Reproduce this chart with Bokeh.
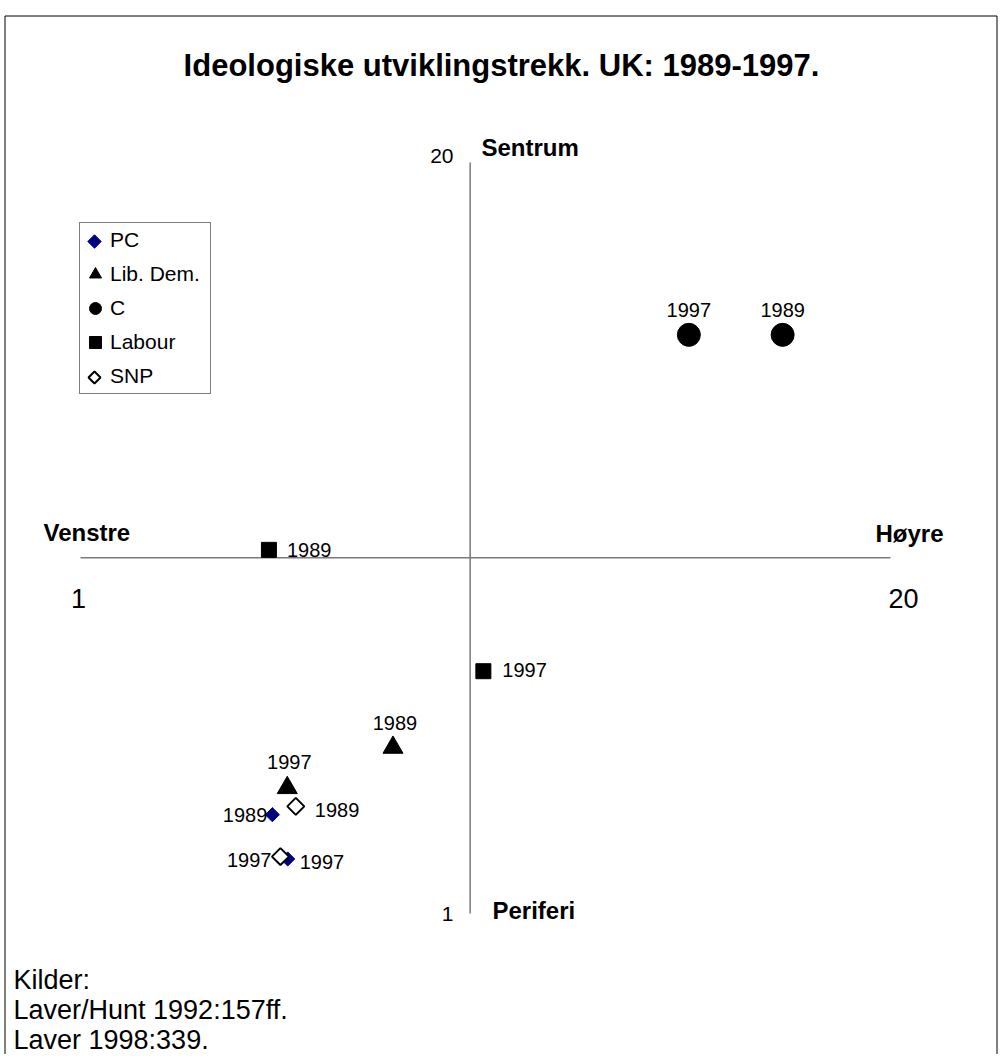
import math
from bokeh.plotting import figure
from bokeh.models import ColumnDataSource, Label, Legend, LegendItem, Range1d
from bokeh.embed import file_html
from bokeh.resources import INLINE
from bokeh.core.properties import value

# ---------------- data ----------------
title_text = "Ideologiske utviklingstrekk. UK: 1989-1997."
parties = ["PC", "Lib. Dem.", "C", "Labour", "SNP"]
years = ["1989", "1997"]

pc_x = [5.50, 5.86]
pc_y = [3.50, 2.38]
libdem_x = [8.33, 5.85]
libdem_y = [5.20, 4.18]
c_x = [17.47, 15.27]
c_y = [15.64, 15.64]
labour_x = [5.42, 10.45]
labour_y = [10.20, 7.13]
snp_x = [6.05, 5.69]
snp_y = [3.71, 2.44]

axis_min, axis_max = 1, 20
x_cross, y_cross = 10.14, 10
x_end_labels = ["1", "20"]
y_end_labels = ["1", "20"]
pole_left, pole_right, pole_top, pole_bottom = "Venstre", "Høyre", "Sentrum", "Periferi"
source_lines = ["Kilder:", "Laver/Hunt 1992:157ff.", "Laver 1998:339."]

# ---------------- geometry (page pixels -> data) ----------------
W, H = 1000, 1054
PX1, PX20 = 80, 890      # page x of value 1 and 20
PY20, PY1 = 162, 913     # page y of value 20 and 1
kx = (axis_max - axis_min) / (PX20 - PX1)
ky = (axis_max - axis_min) / (PY1 - PY20)


def X(px):
    return axis_min + (px - PX1) * kx


def Y(py):
    return axis_max - (py - PY20) * ky


FONT = "Liberation Sans"
NAVY = "#000080"

p = figure(width=W, height=H, x_range=Range1d(X(0), X(W)),
           y_range=Range1d(Y(H), Y(0)), min_border=0,
           toolbar_location=None, output_backend="svg",
           x_axis_type=None, y_axis_type=None)
p.grid.visible = False
p.outline_line_color = None
p.background_fill_color = "white"

# outer chart border (open at bottom, like the cropped original)
p.line(x=[X(4.5), X(4.5), X(996.5), X(996.5)],
       y=[Y(H), Y(15.5), Y(15.5), Y(H)],
       line_color="black", line_width=1)

# crossing axes
p.segment(x0=[axis_min, x_cross], y0=[y_cross, axis_min],
          x1=[axis_max, x_cross], y1=[y_cross, axis_max],
          line_color="#7a7a7a", line_width=1.5)

# ---------------- markers ----------------
rot = math.pi / 4
r_pc = p.scatter(pc_x, pc_y, marker="square", angle=rot, size=10,
                 fill_color=NAVY, line_color=NAVY)
r_ld = p.scatter(libdem_x, libdem_y, marker="triangle", size=20,
                 fill_color="black", line_color="black")
r_c = p.scatter(c_x, c_y, marker="circle", size=23,
                fill_color="black", line_color="black")
r_lab = p.scatter(labour_x, labour_y, marker="square", size=15,
                  fill_color="black", line_color="black")
r_snp = p.scatter(snp_x, snp_y, marker="square", angle=rot, size=12,
                  fill_color="white", line_color="black", line_width=2)

# ---------------- year labels ----------------
# label placement per series (align, dx px, dy px) for 1989 and 1997
placement = {
    "PC": [("right", -5, 0), ("left", 12, 3)],
    "Lib. Dem.": [("center", 2, -24), ("center", 2, -26)],
    "C": [("center", 0, -25), ("center", 0, -25)],
    "Labour": [("left", 18, 0), ("left", 19, -1)],
    "SNP": [("left", 19, 4), ("right", -9, 3)],
}
series = {"PC": (pc_x, pc_y), "Lib. Dem.": (libdem_x, libdem_y),
          "C": (c_x, c_y), "Labour": (labour_x, labour_y),
          "SNP": (snp_x, snp_y)}
groups = {}
for name in parties:
    xs, ys = series[name]
    for i, yr in enumerate(years):
        align, dx, dy = placement[name][i]
        g = groups.setdefault(align, dict(x=[], y=[], t=[], dx=[], dy=[]))
        g["x"].append(xs[i]); g["y"].append(ys[i]); g["t"].append(yr)
        g["dx"].append(dx); g["dy"].append(dy)
for align, g in groups.items():
    p.text(x="x", y="y", text="t", x_offset="dx", y_offset="dy",
           source=ColumnDataSource(g), text_align=align,
           text_baseline="middle", text_font=value(FONT),
           text_font_size="20px", text_color="black")

# ---------------- legend ----------------
# Bokeh legends draw markers unrotated, so the two diamond entries get an
# empty stand-in renderer and their rotated marker is drawn underneath the
# (transparent) legend box.
LEG_LEFT, LEG_TOP, LEG_GW, LEG_GH = 79, 224, 30, 34
stand_pc = p.scatter([], [], marker="square", fill_alpha=0, line_alpha=0)
stand_snp = p.scatter([], [], marker="square", fill_alpha=0, line_alpha=0)
legend_renderers = [stand_pc, r_ld, r_c, r_lab, stand_snp]
n_items = len(parties)
legend = Legend(items=[LegendItem(label=n, renderers=[r]) for n, r in
                       zip(parties, legend_renderers)],
                location=(LEG_LEFT, H - LEG_TOP - n_items * LEG_GH),
                margin=0, padding=0, spacing=0,
                glyph_width=LEG_GW, glyph_height=LEG_GH, label_standoff=0,
                label_width=100, label_height=20,
                label_text_font=FONT, label_text_font_size="21px",
                label_text_color="black",
                border_line_color="black", border_line_width=1,
                background_fill_alpha=0)
p.add_layout(legend)

gx = X(LEG_LEFT + LEG_GW / 2)
p.scatter([gx], [Y(LEG_TOP + LEG_GH / 2)], marker="square", angle=rot,
          size=9.5, fill_color=NAVY, line_color=NAVY)
p.scatter([gx], [Y(LEG_TOP + LEG_GH * (n_items - 0.5))], marker="square",
          angle=rot, size=8.5, fill_color="white", line_color="black",
          line_width=2)


# ---------------- texts ----------------
def add_label(px, py, text, size, align="left", bold=False):
    p.add_layout(Label(x=X(px), y=Y(py), text=text, text_align=align,
                       text_baseline="middle", text_font=FONT,
                       text_font_size=size,
                       text_font_style="bold" if bold else "normal",
                       text_color="black"))


add_label(501, 65, title_text, "31px", "center", True)
add_label(481, 147, pole_top, "24px", "left", True)
add_label(492, 910, pole_bottom, "24px", "left", True)
add_label(43, 532, pole_left, "24px", "left", True)
add_label(875, 533, pole_right, "24px", "left", True)
add_label(78, 598, x_end_labels[0], "27px", "center")
add_label(903, 598, x_end_labels[1], "27px", "center")
add_label(453, 155, y_end_labels[1], "21px", "right")
add_label(453, 913, y_end_labels[0], "21px", "right")
for i, line in enumerate(source_lines):
    add_label(13, 979 + 30 * i, line, "27px", "left")

open("out.html", "w").write(file_html(p, INLINE))
